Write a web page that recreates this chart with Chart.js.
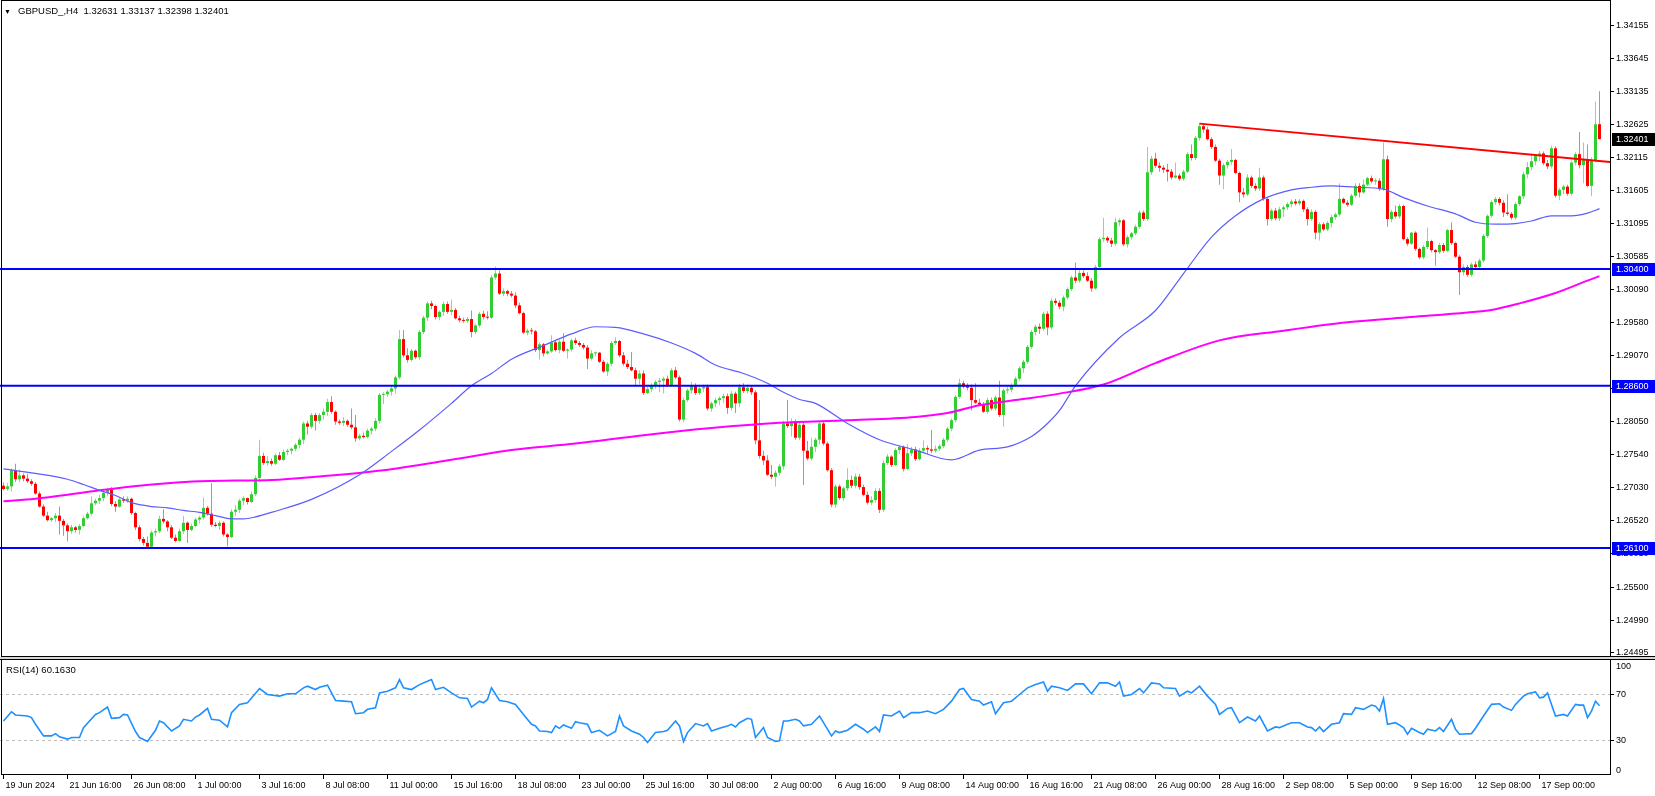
<!DOCTYPE html>
<html lang="en">
<head>
<meta charset="utf-8">
<title>GBPUSD_,H4</title>
<script src="https://cdn.jsdelivr.net/npm/chart.js@4.4.1/dist/chart.umd.min.js"></script>
<style>
  html, body { margin: 0; padding: 0; background: #ffffff; }
  #chart { position: relative; width: 1655px; height: 796px; overflow: hidden; font-family: "Liberation Sans", Arial, sans-serif; }
  #mainCanvas { position: absolute; left: 0; top: 0; }
  #rsiCanvas { position: absolute; left: 0; top: 657px; }
  .caption { position: absolute; font-size: 9.5px; line-height: 11px; color: #000; white-space: pre; }
</style>
</head>
<body>
<div id="chart">
  <canvas id="mainCanvas" width="1655" height="657"></canvas>
  <canvas id="rsiCanvas" width="1655" height="139"></canvas>
  <div class="caption" style="left:4px; top:6px; font-size:7px;">&#9660;</div>
  <div class="caption" id="symbolCaption" style="left:18px; top:5px;"></div>
  <div class="caption" id="rsiCaption" style="left:6px; top:664px;"></div>
</div>
<script>
// H4 candles, prices in points: 2705 -> 1.2705
const opens = [
  2706,2701,2705,2730,2716,2722,2717,2713,2709,2694,
  2674,2660,2653,2656,2660,2652,2645,2636,2642,2638,
  2644,2656,2663,2679,2683,2687,2695,2700,2678,2674,
  2685,2683,2686,2664,2642,2624,2618,2612,2634,2636,
  2655,2651,2642,2626,2621,2636,2649,2638,2644,2654,
  2657,2672,2663,2646,2644,2649,2631,2627,2666,2669,
  2683,2687,2681,2693,2718,2752,2741,2744,2740,2753,
  2746,2758,2760,2763,2769,2777,2802,2797,2815,2806,
  2815,2820,2835,2820,2805,2803,2806,2800,2796,2779,
  2783,2781,2791,2794,2806,2846,2847,2851,2856,2873,
  2932,2907,2900,2914,2904,2943,2965,2987,2983,2966,
  2974,2986,2974,2977,2964,2961,2960,2963,2943,2953,
  2971,2966,2965,3027,3033,3002,3006,3002,2999,2984,
  2972,2942,2945,2944,2915,2924,2910,2913,2927,2915,
  2928,2914,2916,2930,2926,2923,2919,2902,2910,2911,
  2897,2882,2894,2926,2929,2907,2894,2889,2884,2871,
  2879,2849,2855,2861,2866,2868,2871,2861,2884,2873,
  2808,2838,2853,2861,2849,2856,2858,2825,2833,2838,
  2841,2844,2826,2848,2833,2858,2852,2857,2850,2776,
  2752,2745,2723,2720,2726,2736,2802,2798,2805,2780,
  2800,2760,2748,2766,2777,2802,2771,2730,2677,2705,
  2687,2702,2715,2706,2720,2704,2692,2680,2684,2698,
  2669,2741,2751,2738,2761,2766,2732,2756,2762,2747,
  2760,2764,2762,2760,2763,2767,2777,2794,2807,2843,
  2864,2859,2857,2838,2834,2831,2820,2838,2825,2842,
  2815,2853,2854,2861,2871,2887,2897,2920,2943,2951,
  2948,2971,2950,2991,2988,2982,2996,3009,3027,3022,
  3034,3029,3022,3010,3043,3086,3088,3084,3079,3112,
  3115,3078,3089,3095,3105,3127,3117,3189,3210,3199,
  3196,3193,3190,3181,3184,3179,3190,3217,3211,3242,
  3260,3255,3240,3228,3207,3184,3200,3205,3208,3188,
  3158,3155,3181,3168,3164,3181,3148,3117,3130,3118,
  3132,3135,3140,3144,3141,3145,3132,3117,3128,3096,
  3109,3101,3111,3120,3124,3148,3142,3139,3153,3168,
  3158,3170,3180,3175,3176,3163,3209,3117,3128,3121,
  3137,3086,3079,3096,3071,3058,3074,3083,3069,3066,
  3077,3068,3100,3080,3059,3035,3043,3031,3047,3043,
  3053,3091,3122,3143,3148,3142,3127,3125,3119,3140,
  3152,3186,3197,3206,3214,3218,3203,3198,3226,3153,
  3162,3167,3156,3204,3217,3200,3208,3168,3207,3263.1
];
const highs = [
  2711,2710,2733,2740,2731,2725,2724,2716,2712,2697,
  2677,2666,2658,2664,2674,2655,2648,2646,2644,2647,
  2659,2666,2690,2686,2692,2698,2703,2704,2682,2688,
  2690,2690,2688,2666,2645,2627,2628,2637,2640,2660,
  2670,2653,2645,2631,2640,2660,2651,2648,2657,2660,
  2688,2675,2710,2650,2652,2651,2633,2670,2676,2686,
  2690,2688,2697,2722,2777,2757,2752,2748,2756,2758,
  2762,2763,2765,2772,2780,2805,2806,2818,2818,2818,
  2825,2840,2844,2822,2808,2812,2808,2825,2815,2786,
  2788,2794,2797,2810,2849,2850,2854,2860,2876,2946,
  2946,2918,2917,2916,2946,2968,2990,2991,2985,2976,
  2990,2990,2993,2980,2968,2965,2966,2976,2956,2974,
  2976,2975,3031,3044,3038,3010,3008,3006,3004,2988,
  2974,2948,2949,2946,2927,2926,2916,2938,2930,2931,
  2941,2918,2933,2934,2929,2926,2923,2915,2913,2912,
  2900,2897,2929,2935,2931,2912,2900,2912,2888,2884,
  2884,2858,2864,2869,2872,2874,2876,2887,2889,2876,
  2842,2856,2866,2864,2860,2862,2862,2836,2842,2844,
  2848,2848,2852,2851,2863,2864,2862,2860,2853,2838,
  2760,2753,2738,2730,2740,2806,2838,2810,2808,2804,
  2804,2775,2780,2780,2805,2806,2774,2733,2708,2708,
  2705,2733,2722,2725,2724,2708,2697,2690,2702,2702,
  2745,2755,2753,2764,2768,2768,2770,2766,2766,2764,
  2776,2768,2792,2768,2770,2780,2797,2810,2846,2871,
  2868,2864,2862,2864,2840,2835,2842,2842,2845,2868,
  2856,2858,2864,2874,2890,2900,2923,2946,2954,2956,
  2974,2975,2995,2995,2992,2999,3012,3030,3050,3038,
  3038,3035,3026,3046,3089,3119,3091,3088,3119,3118,
  3117,3092,3097,3108,3130,3130,3228,3214,3219,3204,
  3200,3202,3194,3204,3187,3193,3220,3232,3245,3265,
  3264,3259,3243,3232,3210,3203,3208,3225,3210,3190,
  3165,3186,3184,3172,3196,3184,3150,3133,3134,3136,
  3138,3143,3147,3148,3148,3147,3135,3132,3131,3112,
  3112,3114,3124,3127,3172,3150,3146,3156,3172,3172,
  3178,3182,3184,3180,3180,3235,3215,3131,3138,3140,
  3139,3089,3097,3098,3073,3077,3104,3085,3071,3080,
  3080,3102,3112,3082,3061,3047,3046,3050,3052,3056,
  3094,3124,3146,3151,3151,3146,3155,3128,3143,3154,
  3190,3205,3218,3217,3222,3221,3208,3230,3229,3165,
  3170,3170,3207,3220,3251,3235,3232,3212,3298,3313.7
];
const lows = [
  2699,2698,2697,2712,2712,2713,2710,2706,2692,2672,
  2658,2651,2650,2650,2631,2629,2620,2632,2634,2631,
  2642,2654,2660,2676,2678,2682,2690,2675,2666,2672,
  2680,2680,2661,2638,2620,2614,2610,2610,2628,2633,
  2648,2636,2624,2619,2620,2632,2618,2636,2642,2648,
  2654,2660,2643,2642,2638,2628,2613,2625,2660,2664,
  2676,2677,2679,2690,2715,2738,2737,2737,2738,2744,
  2744,2753,2754,2759,2764,2770,2785,2794,2791,2802,
  2808,2814,2817,2800,2800,2798,2797,2793,2774,2776,
  2779,2779,2785,2790,2802,2832,2843,2845,2848,2870,
  2904,2896,2898,2901,2900,2940,2960,2978,2962,2961,
  2968,2971,2969,2962,2958,2957,2957,2935,2940,2950,
  2962,2962,2963,3024,3000,2998,2998,2996,2980,2970,
  2940,2938,2939,2912,2900,2905,2908,2911,2913,2910,
  2912,2902,2913,2923,2920,2916,2886,2899,2905,2895,
  2880,2875,2890,2923,2904,2891,2886,2882,2860,2862,
  2846,2847,2851,2855,2850,2848,2858,2858,2870,2805,
  2804,2835,2848,2846,2846,2850,2822,2820,2827,2830,
  2833,2817,2822,2818,2827,2849,2848,2846,2770,2748,
  2738,2721,2716,2705,2722,2731,2795,2782,2777,2776,
  2707,2745,2745,2758,2770,2768,2728,2673,2672,2684,
  2683,2698,2702,2702,2700,2690,2677,2676,2680,2664,
  2666,2738,2735,2736,2755,2728,2730,2752,2744,2745,
  2756,2755,2756,2757,2760,2764,2774,2790,2804,2840,
  2856,2853,2822,2832,2828,2818,2817,2822,2822,2812,
  2797,2848,2850,2858,2868,2880,2894,2917,2938,2940,
  2945,2938,2947,2984,2978,2975,2993,3006,3018,3019,
  3026,3020,3005,3008,3040,3082,3080,3074,3076,3106,
  3075,3073,3085,3092,3102,3114,3114,3185,3196,3190,
  3188,3175,3178,3179,3176,3176,3188,3207,3208,3238,
  3250,3238,3225,3205,3170,3163,3195,3200,3186,3143,
  3150,3152,3165,3160,3160,3145,3107,3114,3115,3114,
  3120,3131,3135,3138,3138,3128,3107,3114,3086,3084,
  3098,3098,3104,3116,3121,3140,3136,3137,3150,3150,
  3156,3168,3172,3170,3160,3160,3105,3112,3118,3118,
  3084,3076,3077,3068,3055,3055,3071,3066,3045,3063,
  3065,3066,3077,3057,3000,3030,3028,3028,3040,3040,
  3050,3088,3119,3139,3138,3120,3122,3116,3116,3137,
  3148,3180,3192,3200,3206,3200,3194,3195,3150,3146,
  3155,3153,3153,3200,3195,3172,3166,3152,3204,3239.8
];
const closes = [
  2701,2705,2730,2716,2722,2717,2713,2709,2694,2674,
  2660,2653,2656,2660,2652,2645,2636,2642,2638,2644,
  2656,2663,2679,2683,2687,2695,2700,2678,2674,2685,
  2683,2686,2664,2642,2624,2618,2612,2634,2636,2655,
  2651,2642,2626,2621,2636,2649,2638,2644,2654,2657,
  2672,2663,2646,2644,2649,2631,2627,2666,2669,2683,
  2687,2681,2693,2718,2752,2741,2744,2740,2753,2746,
  2758,2760,2763,2769,2777,2802,2797,2815,2806,2815,
  2820,2835,2820,2805,2803,2806,2800,2796,2779,2783,
  2781,2791,2794,2806,2846,2847,2851,2856,2873,2932,
  2907,2900,2914,2904,2943,2965,2987,2983,2966,2974,
  2986,2974,2977,2964,2961,2960,2963,2943,2953,2971,
  2966,2965,3027,3033,3002,3006,3002,2999,2984,2972,
  2942,2945,2944,2915,2924,2910,2913,2927,2915,2928,
  2914,2916,2930,2926,2923,2919,2902,2910,2911,2897,
  2882,2894,2926,2929,2907,2894,2889,2884,2871,2879,
  2849,2855,2861,2866,2868,2871,2861,2884,2873,2808,
  2838,2853,2861,2849,2856,2858,2825,2833,2838,2841,
  2844,2826,2848,2833,2858,2852,2857,2850,2776,2752,
  2745,2723,2720,2726,2736,2802,2798,2805,2780,2800,
  2760,2748,2766,2777,2802,2771,2730,2677,2705,2687,
  2702,2715,2706,2720,2704,2692,2680,2684,2698,2669,
  2741,2751,2738,2761,2766,2732,2756,2762,2747,2760,
  2764,2762,2760,2763,2767,2777,2794,2807,2843,2864,
  2859,2857,2838,2834,2831,2820,2838,2825,2842,2815,
  2853,2854,2861,2871,2887,2897,2920,2943,2951,2948,
  2971,2950,2991,2988,2982,2996,3009,3027,3022,3034,
  3029,3022,3010,3043,3086,3088,3084,3079,3112,3115,
  3078,3089,3095,3105,3127,3117,3189,3210,3199,3196,
  3193,3190,3181,3184,3179,3190,3217,3211,3242,3260,
  3255,3240,3228,3207,3184,3200,3205,3208,3188,3158,
  3155,3181,3168,3164,3181,3148,3117,3130,3118,3132,
  3135,3140,3144,3141,3145,3132,3117,3128,3096,3109,
  3101,3111,3120,3124,3148,3142,3139,3153,3168,3158,
  3170,3180,3175,3176,3163,3209,3117,3128,3121,3137,
  3086,3079,3096,3071,3058,3074,3083,3069,3066,3077,
  3068,3100,3080,3059,3035,3043,3031,3047,3043,3053,
  3091,3122,3143,3148,3142,3127,3125,3119,3140,3152,
  3186,3197,3206,3214,3218,3203,3198,3226,3153,3162,
  3167,3156,3204,3217,3200,3208,3168,3207,3263,3240.1
];

// moving averages (bar index -> points)
const maFastBars = [0,8,16,20,24,28,32,37,41,45,49,53,57,60,63,67,77,89,97,104,112,117,122,127,135,142,148,153,160,167,
  173,178,185,191,195,199,203,211,219,228,237,244,251,257,261,264,268,279,288,295,302,308,315,322,327,332,338,345,350,356,
  363,368,373,378,382,387,392,396,399];
const maFast = [2732,2725,2716,2708,2699,2691,2680,2674,2672,2668,2665,2660,2655,2655,2658,2665,2685,2723,2759,2792,2833,2860,2879,2901,2922,2940,2951,2950,2940,2926,
  2910,2892,2879,2864,2850,2839,2833,2802,2777,2761,2746,2761,2766,2782,2802,2822,2860,2934,2976,3033,3089,3122,3148,3162,3166,3168,3166,3163,3150,3137,
  3125,3112,3109,3110,3114,3122,3122,3126,3133];
const maSlowBars = [0,8,16,24,32,41,49,58,67,78,95,112,127,143,160,177,194,211,228,236,244,253,264,275,288,304,320,336,352,366,372,379,388,396,399];
const maSlow = [2682,2686,2692,2699,2705,2710,2713,2714,2715,2720,2730,2746,2761,2771,2784,2795,2803,2807,2812,2818,2830,2838,2848,2862,2895,2930,2945,2958,2966,2973,2977,2987,3003,3022,3029];

// horizontal levels and trend line
const levelPrices = [1.30400, 1.28600, 1.26100];
const trendBars = [299, 401.625];
const trendPrices = [1.32640, 1.32050];

// price scale labels
const priceTicks = [1.34155,1.33645,1.33135,1.32625,1.32115,1.31605,1.31095,1.30585,1.30090,1.29580,
  1.29070,1.28560,1.28050,1.27540,1.27030,1.26520,1.26010,1.25500,1.24990,1.24495];

// RSI(14)
const rsiBars = [0,2,3,6,7,8,10,12,13,14,16,17,19,20,23,24,26,27,29,30,31,33,34,36,38,39,40,42,44,45,47,48,49,51,52,54,56,57,59,61,
  64,66,69,71,73,75,76,78,79,81,83,85,87,88,90,91,93,94,96,98,99,100,102,104,106,107,108,110,112,114,116,117,119,120,121,122,124,126,128,130,
  132,133,134,136,137,138,139,140,142,143,144,146,147,149,151,153,154,155,157,159,160,161,163,165,166,168,169,170,171,173,175,176,177,179,181,182,183,184,186,187,
  188,190,191,193,194,195,196,198,199,200,202,204,205,207,208,209,211,213,215,216,218,219,220,222,224,225,227,229,231,233,235,237,239,240,242,244,245,247,248,250,
  252,254,256,258,260,261,262,264,266,268,270,272,274,276,278,279,280,282,284,285,287,289,290,293,294,296,297,299,301,303,304,306,307,309,311,313,314,316,318,319,
  321,322,324,326,327,328,329,330,332,334,335,337,338,340,342,343,344,345,346,348,350,351,352,354,355,356,358,359,360,362,363,364,367,368,370,372,374,375,377,378,
  380,381,383,384,385,386,388,390,391,393,394,395,396,397,398,399];
const rsiValues = [47.0,55.0,52.2,51.3,49.9,44.1,34.0,34.0,36.0,33.2,31.2,32.6,32.6,41.2,52.7,54.2,59.1,49.3,49.9,52.7,52.2,37.8,32.6,29.1,38.9,47.0,45.5,38.3,42.7,48.4,47.0,50.4,52.2,57.9,48.4,47.6,41.8,54.2,61.4,62.8,
  75.2,70.0,68.6,70.6,70.6,75.8,77.2,74.3,76.3,78.1,64.8,64.2,63.7,53.3,54.2,57.1,58.5,71.4,72.9,75.8,83.0,75.8,74.3,78.6,81.5,83.0,74.3,76.3,71.4,67.1,66.6,59.1,64.2,62.8,65.7,75.8,64.8,63.7,61.4,52.7,
  44.1,42.7,38.3,37.8,36.9,42.7,40.6,43.5,40.6,46.4,45.5,44.1,36.9,38.9,34.0,37.8,51.3,42.7,38.3,35.5,32.6,28.3,36.9,37.8,38.9,47.0,42.7,29.1,36.9,44.7,42.7,44.7,38.3,40.6,42.7,44.1,41.8,45.5,49.3,48.4,
  32.6,41.2,32.6,29.1,29.7,47.0,47.0,48.4,47.0,42.7,44.1,51.3,45.5,34.0,38.3,36.9,38.9,44.1,39.8,36.9,41.8,37.8,52.2,51.3,55.6,49.9,54.2,54.2,55.6,53.3,57.1,64.2,74.3,75.2,65.7,64.2,60.8,63.7,53.3,62.8,
  64.2,70.0,75.8,78.6,80.9,72.9,77.2,75.8,73.5,79.2,79.2,70.6,80.1,80.1,77.2,80.9,68.6,70.0,75.2,71.4,80.1,79.2,75.8,75.2,68.6,72.9,71.4,77.2,68.6,61.4,52.7,57.9,58.5,45.5,50.4,47.0,51.3,38.3,41.8,41.2,
  44.1,45.5,45.5,41.8,41.2,38.3,41.8,37.8,44.1,45.5,53.3,52.7,58.5,57.1,60.8,59.9,55.6,66.5,44.1,45.5,41.2,35.5,40.6,36.9,35.5,39.8,38.3,41.2,37.8,48.4,39.8,35.5,36.0,40.6,51.3,61.4,61.9,59.1,56.2,61.4,
  68.6,70.6,72.3,67.1,67.7,71.4,51.3,52.7,51.3,61.4,60.8,60.8,49.9,55.6,64.2,60.163];
const rsiAxisLabels = ['100', '70', '30', '0'];
const rsiAxisAt = [94.2, 70, 30, 4.3];   // 100 and 0 sit just inside the pane edges
const rsiLevels = [70, 30];

// time axis labels, every 16 bars
const xLabelBars = [0,16,32,48,64,80,96,112,128,144,160,176,192,208,224,240,256,272,288,304,320,336,352,368,384];
const xLabels = ['19 Jun 2024','21 Jun 16:00','26 Jun 08:00','1 Jul 00:00','3 Jul 16:00','8 Jul 08:00','11 Jul 00:00',
  '15 Jul 16:00','18 Jul 08:00','23 Jul 00:00','25 Jul 16:00','30 Jul 08:00','2 Aug 00:00','6 Aug 16:00','9 Aug 08:00',
  '14 Aug 00:00','16 Aug 16:00','21 Aug 08:00','26 Aug 00:00','28 Aug 16:00','2 Sep 08:00','5 Sep 00:00','9 Sep 16:00',
  '12 Sep 08:00','17 Sep 00:00'];

const toPrice = v => 1 + v / 10000;
const X_MIN = -0.875, X_MAX = 401.625;
const Y_MAX = 1.345448, Y_MIN = 1.244217;
const last = closes.length - 1;

const UP = '#32CD32', DOWN = '#FF0000';
const UP_WICK = 'rgba(50,205,50,0.6)', DOWN_WICK = 'rgba(255,0,0,0.55)';
const FONT = '"Liberation Sans", Arial, sans-serif';

Chart.defaults.font.family = FONT;
Chart.defaults.font.size = 9;
Chart.defaults.color = '#000';

document.getElementById('symbolCaption').textContent =
  'GBPUSD_,H4  ' + [opens[last], highs[last], lows[last], closes[last]].map(v => toPrice(v).toFixed(5)).join(' ');
document.getElementById('rsiCaption').textContent = 'RSI(14) ' + rsiValues[rsiValues.length - 1].toFixed(4);

const isUp = opens.map((o, i) => closes[i] >= o);
const bodyData = opens.map((o, i) => ({ x: i, y: [toPrice(o), toPrice(closes[i])] }));
const wickData = opens.map((o, i) => ({ x: i, y: [toPrice(lows[i]), toPrice(highs[i])] }));

// keep the plot area flush with the canvas: no label overhang padding
function fixSide(s) {
  s.width = 45;
  s.paddingTop = 0;
  s.paddingBottom = 0;
}
function fixBottom(s) {
  s.height = 21;
  s.paddingLeft = 0;
  s.paddingRight = 0;
}

function priceTag(ctx, py, text, bg, x0) {
  ctx.fillStyle = bg;
  ctx.fillRect(x0 + 2, Math.round(py) - 6, 45, 13);
  ctx.fillStyle = '#ffffff';
  ctx.fillText(text, x0 + 6, Math.round(py) + 0.5);
}

// frame of the price pane plus the tags on the price scale
const mainFrame = {
  id: 'mainFrame',
  afterDraw(chart) {
    const { ctx, chartArea: a } = chart;
    const y = chart.scales.y;
    ctx.save();
    ctx.strokeStyle = '#000';
    ctx.lineWidth = 1;
    ctx.strokeRect(1.5, 0.5, a.right - 1, a.bottom - 1);
    ctx.beginPath();
    ctx.moveTo(a.right, a.bottom - 0.5);
    ctx.lineTo(chart.width, a.bottom - 0.5);
    ctx.stroke();
    ctx.font = '9px ' + FONT;
    ctx.textBaseline = 'middle';
    levelPrices.forEach(p => priceTag(ctx, y.getPixelForValue(p), p.toFixed(5), '#0000FF', a.right));
    priceTag(ctx, y.getPixelForValue(toPrice(closes[last])), toPrice(closes[last]).toFixed(5), '#000000', a.right);
    ctx.restore();
  }
};

const rsiFrame = {
  id: 'rsiFrame',
  afterDraw(chart) {
    const { ctx, chartArea: a } = chart;
    ctx.save();
    ctx.fillStyle = '#D6D6D6';
    ctx.fillRect(0, 0, chart.width, 2);
    ctx.strokeStyle = '#000';
    ctx.lineWidth = 1;
    ctx.beginPath();
    ctx.moveTo(0, a.top - 0.5);
    ctx.lineTo(chart.width, a.top - 0.5);
    ctx.stroke();
    ctx.strokeRect(1.5, a.top - 0.5, a.right - 1, a.bottom - a.top);
    ctx.restore();
  }
};

new Chart(document.getElementById('mainCanvas'), {
  type: 'bar',
  data: {
    datasets: [
      {
        type: 'line',
        data: trendBars.map((b, k) => ({ x: b, y: trendPrices[k] })),
        borderColor: '#FF0000', borderWidth: 2, pointRadius: 0, order: 0
      },
      ...levelPrices.map(p => ({
        type: 'line',
        data: [{ x: X_MIN, y: p }, { x: X_MAX, y: p }],
        borderColor: '#0000FF', borderWidth: 2, pointRadius: 0, order: 1
      })),
      {
        type: 'line',
        data: maFastBars.map((b, k) => ({ x: b, y: toPrice(maFast[k]) })),
        borderColor: '#5C5CFF', borderWidth: 1.2, pointRadius: 0,
        cubicInterpolationMode: 'monotone', order: 2
      },
      {
        type: 'line',
        data: maSlowBars.map((b, k) => ({ x: b, y: toPrice(maSlow[k]) })),
        borderColor: '#FF00FF', borderWidth: 2, pointRadius: 0,
        cubicInterpolationMode: 'monotone', order: 3
      },
      {
        type: 'bar', data: bodyData,
        backgroundColor: isUp.map(u => (u ? UP : DOWN)),
        barThickness: 3, minBarLength: 1, grouped: false, borderWidth: 0, inflateAmount: 0, order: 8
      },
      {
        type: 'bar', data: wickData,
        backgroundColor: isUp.map(u => (u ? UP_WICK : DOWN_WICK)),
        barThickness: 1, grouped: false, borderWidth: 0, inflateAmount: 0, order: 9
      }
    ]
  },
  options: {
    responsive: false,
    animation: false,
    devicePixelRatio: 1,
    events: [],
    layout: { padding: 0 },
    plugins: { legend: { display: false }, tooltip: { enabled: false } },
    scales: {
      x: { type: 'linear', min: X_MIN, max: X_MAX, offset: false, display: false },
      y: {
        type: 'linear', position: 'right', min: Y_MIN, max: Y_MAX,
        afterFit: fixSide,
        afterBuildTicks: s => { s.ticks = priceTicks.map(v => ({ value: v })); },
        ticks: { padding: 2, autoSkip: false, callback: v => v.toFixed(5) },
        grid: { drawOnChartArea: false, drawTicks: true, tickLength: 4, color: '#000', offset: false },
        border: { display: false }
      }
    }
  },
  plugins: [mainFrame]
});

new Chart(document.getElementById('rsiCanvas'), {
  type: 'line',
  data: {
    datasets: [{
      data: rsiBars.map((b, k) => ({ x: b, y: rsiValues[k] })),
      borderColor: '#1E90FF', borderWidth: 1.6, pointRadius: 0, tension: 0
    }]
  },
  options: {
    responsive: false,
    animation: false,
    devicePixelRatio: 1,
    events: [],
    layout: { padding: { top: 3 } },
    plugins: { legend: { display: false }, tooltip: { enabled: false } },
    scales: {
      x: {
        type: 'linear', position: 'bottom', min: X_MIN, max: X_MAX, offset: false,
        afterFit: fixBottom,
        afterBuildTicks: s => { s.ticks = xLabelBars.map(v => ({ value: v })); },
        ticks: { autoSkip: false, maxRotation: 0, align: 'start', labelOffset: 2, padding: 1,
                 callback: (v, i) => xLabels[i] },
        grid: { drawOnChartArea: false, drawTicks: true, tickLength: 4, color: '#000' },
        border: { display: false }
      },
      y: {
        type: 'linear', position: 'right', min: 0, max: 100,
        afterFit: fixSide,
        afterBuildTicks: s => { s.ticks = rsiAxisAt.map(v => ({ value: v })); },
        ticks: { padding: 2, autoSkip: false, callback: (v, i) => rsiAxisLabels[i] },
        grid: {
          drawOnChartArea: true, drawTicks: true, tickLength: 4,
          color: c => (rsiLevels.includes(c.tick && c.tick.value) ? '#BDBDBD' : 'rgba(0,0,0,0)'),
          tickColor: c => (rsiLevels.includes(c.tick && c.tick.value) ? '#000' : 'rgba(0,0,0,0)')
        },
        border: { display: false, dash: [3, 3] }
      }
    }
  },
  plugins: [rsiFrame]
});
</script>
</body>
</html>
